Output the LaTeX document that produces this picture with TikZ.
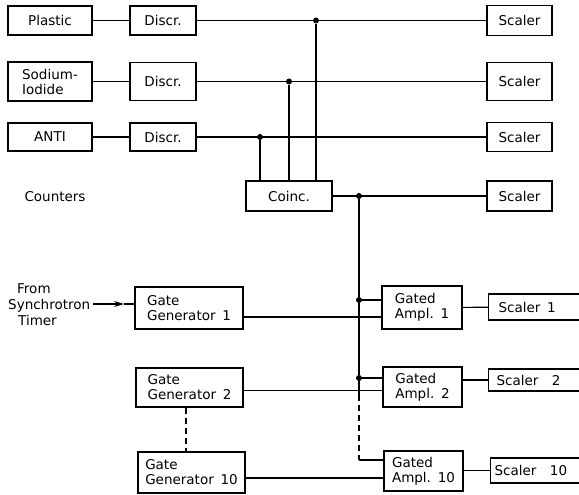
\documentclass[tikz,border=0pt]{standalone}
\usepackage{fontspec}
\setmainfont{DejaVu Sans}
\usetikzlibrary{arrows.meta}
\begin{document}
\begin{tikzpicture}[x=1pt,y=-1pt,
  box/.style={draw, line width=1.1pt, inner sep=0pt, align=left, font=\fontsize{13.5}{15}\selectfont},
  wire/.style={line width=1.1pt},
  dot/.style={circle, fill, inner sep=0pt, minimum size=6pt},
  lbl/.style={font=\fontsize{13.5}{16}\selectfont, inner sep=0pt, align=left}]
\useasboundingbox (0,0) rectangle (579,495);
\fill[white] (0,0) rectangle (579,495);
\clip (0,0) rectangle (579,495);
% counters row
\node[box, minimum width=84pt, minimum height=29pt] (plastic) at (50,20.5) {Plastic};
\node[box, minimum width=66pt, minimum height=29pt] (d1) at (163,20.5) {Discr.};
\node[box, minimum width=65pt, minimum height=30pt] (s1) at (519.5,20.5) {Scaler};
\node[box, minimum width=84pt, minimum height=39pt] (sodium) at (50,81.5) {Sodium-\\Iodide};
\node[box, minimum width=66pt, minimum height=38pt] (d2) at (163,81.5) {Discr.};
\node[box, minimum width=65pt, minimum height=38pt] (s2) at (519.5,81.5) {Scaler};
\node[box, minimum width=84pt, minimum height=28pt] (anti) at (50,137) {ANTI};
\node[box, minimum width=66pt, minimum height=28pt] (d3) at (163,137) {Discr.};
\node[box, minimum width=65pt, minimum height=29pt] (s3) at (519.5,137) {Scaler};
\node[box, minimum width=86pt, minimum height=30pt] (coinc) at (289,196) {Coinc.};
\node[box, minimum width=65pt, minimum height=30pt] (s4) at (519.5,196) {Scaler};
\node[lbl] (counters) at (55,197) {Counters};
% gate section
\node[lbl, anchor=west] (from) at (8,305) {\hspace*{9pt}From\\Synchrotron\\\hspace*{10pt}Timer};
\node[box, minimum width=108pt, minimum height=42pt] (gg1) at (189,308) {Gate\\Generator\enspace 1};
\node[box, minimum width=107pt, minimum height=39pt] (gg2) at (189.5,387.5) {Gate\\Generator\enspace 2};
\node[box, minimum width=107pt, minimum height=41pt] (gg10) at (191.5,472.5) {Gate\\Generator\enspace 10};
\node[box, minimum width=80pt, minimum height=43pt] (ga1) at (422,307.5) {Gated\\Ampl.\enspace 1};
\node[box, minimum width=79pt, minimum height=40pt] (ga2) at (422.5,387) {Gated\\Ampl.\enspace 2};
\node[box, minimum width=79pt, minimum height=40pt] (ga10) at (423.5,471) {Gated\\Ampl.\enspace 10};
\node[box, anchor=west, minimum height=26pt, inner xsep=10pt, text width=100pt] (sc1) at (488,307) {Scaler\enspace 1};
\node[box, anchor=west, minimum height=22pt, inner xsep=8pt, text width=100pt] (sc2) at (488,380) {Scaler\enspace\enspace 2};
\node[box, anchor=west, minimum height=25pt, inner xsep=4pt, text width=100pt] (sc10) at (490,470.5) {Scaler\enspace\enspace 10};
% junctions
\node[dot] (j1) at (316,20.5) {};
\node[dot] (j2) at (289,81.5) {};
\node[dot] (j3) at (260,137) {};
\node[dot] (j4) at (359,196) {};
\node[dot] (j5) at (359,300) {};
\node[dot] (j6) at (359,378) {};
\coordinate (j7) at (359,395);
\coordinate (j8) at (359,460);
\coordinate (tip) at (124,304);
% wires
\draw[wire] (plastic) -- (d1);
\draw[wire] (d1) -- (s1);
\draw[wire] (sodium) -- (d2);
\draw[wire] (d2) -- (s2);
\draw[wire] (anti) -- (d3);
\draw[wire] (d3) -- (s3);
\draw[wire] (coinc) -- (s4);
\draw[wire] (j1) -- (j1 |- coinc.north);
\draw[wire] (j2) -- (j2 |- coinc.north);
\draw[wire] (j3) -- (j3 |- coinc.north);
\draw[wire] (j4) -- (j5);
\draw[wire] (j5) -- (j6);
\draw[wire] (j6) -- (j7);
\draw[wire, dash pattern=on 6pt off 4pt] (j7) -- (j8);
\draw[wire] (j8) -- (j8 -| ga10.west);
\draw[wire] (j5) -- (j5 -| ga1.west);
\draw[wire] (j6) -- (j6 -| ga2.west);
\draw[wire] ([yshift=-9pt]gg1.east) -- ([yshift=-9pt]gg1.east -| ga1.west);
\draw[wire] ([yshift=-3pt]gg2.east) -- ([yshift=-3pt]gg2.east -| ga2.west);
\draw[wire] ([yshift=-5.5pt]gg10.east) -- ([yshift=-5.5pt]gg10.east -| ga10.west);
\draw[wire] (ga1) -- (sc1);
\draw[wire] (ga2.east |- sc2.west) -- (sc2.west);
\draw[wire] (ga10.east |- sc10.west) -- (sc10.west);
\draw[wire, dash pattern=on 6pt off 4pt] ([xshift=-3.5pt]gg2.south) -- ([xshift=-3.5pt]gg2.south |- gg10.north);
\draw[wire, -{Stealth[length=10pt,width=6pt]}] (from.east |- tip) ++(3pt,0) -- (tip);
\draw[wire] (tip) -- (tip -| gg1.west);
\end{tikzpicture}
\end{document}
